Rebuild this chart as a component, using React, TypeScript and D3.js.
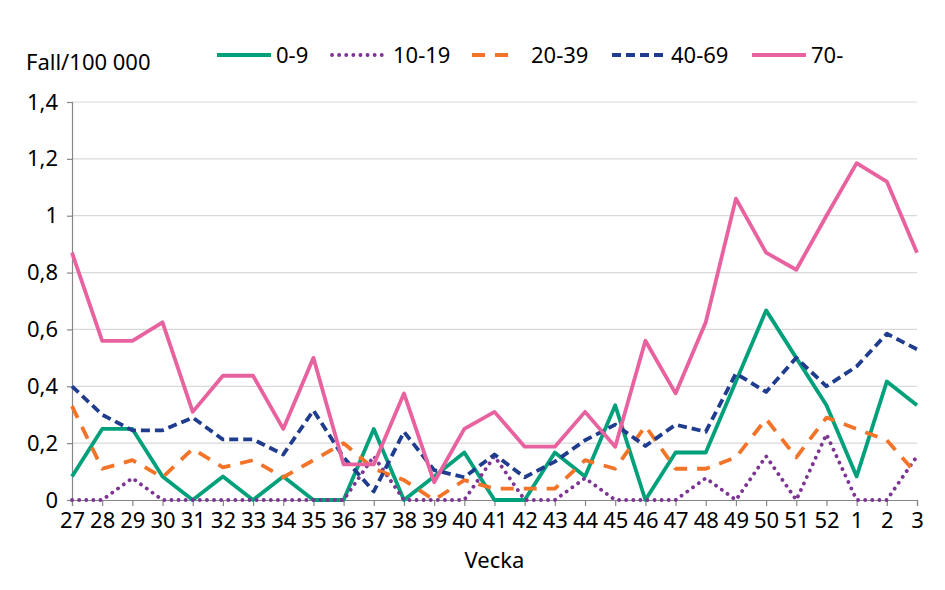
import React from "react";
import { useEffect, useRef } from "react";
import * as d3 from "d3";

const weeks = [
  "27", "28", "29", "30", "31", "32", "33", "34", "35", "36", "37", "38", "39", "40", "41",
  "42", "43", "44", "45", "46", "47", "48", "49", "50", "51", "52", "1", "2", "3",
];

const age0to9 = [
  0.083, 0.25, 0.25, 0.083, 0, 0.083, 0, 0.083, 0, 0, 0.25, 0, 0.083, 0.167, 0,
  0, 0.167, 0.083, 0.333, 0, 0.167, 0.167, 0.417, 0.667, 0.5, 0.333, 0.083, 0.417, 0.333,
];
const age10to19 = [
  0, 0, 0.077, 0, 0, 0, 0, 0, 0, 0, 0.154, 0, 0, 0, 0.154,
  0, 0, 0.077, 0, 0, 0, 0.077, 0, 0.154, 0, 0.231, 0, 0, 0.154,
];
const age20to39 = [
  0.33, 0.11, 0.14, 0.08, 0.18, 0.115, 0.14, 0.08, 0.14, 0.2, 0.11, 0.07, 0, 0.07, 0.04,
  0.04, 0.04, 0.14, 0.11, 0.26, 0.11, 0.11, 0.15, 0.285, 0.15, 0.29, 0.25, 0.21, 0.09,
];
const age40to69 = [
  0.4, 0.3, 0.245, 0.245, 0.29, 0.213, 0.213, 0.16, 0.315, 0.15, 0.03, 0.24, 0.105, 0.08, 0.16,
  0.08, 0.135, 0.21, 0.265, 0.19, 0.265, 0.24, 0.445, 0.38, 0.5, 0.4, 0.47, 0.585, 0.53,
];
const age70plus = [
  0.87, 0.56, 0.56, 0.625, 0.31, 0.437, 0.437, 0.25, 0.5, 0.125, 0.125, 0.375, 0.0625, 0.25, 0.31,
  0.1875, 0.1875, 0.31, 0.1875, 0.56, 0.375, 0.625, 1.06, 0.87, 0.81, 1.0, 1.185, 1.12, 0.87,
];

const yTicks = [0, 0.2, 0.4, 0.6, 0.8, 1, 1.2, 1.4];

const series = [
  { name: "0-9", values: age0to9, color: "#00a07a", dash: null, cap: "butt" },
  { name: "10-19", values: age10to19, color: "#7d3593", dash: "0.1,7", cap: "round" },
  { name: "20-39", values: age20to39, color: "#f37428", dash: "13,10", cap: "butt" },
  { name: "40-69", values: age40to69, color: "#1f3c8f", dash: "9,5", cap: "butt" },
  { name: "70-", values: age70plus, color: "#e8629f", dash: null, cap: "butt" },
];

const font = "'Noto Sans', 'DejaVu Sans', sans-serif";
const fontSize = 22;

const App = () => {
  const ref = useRef<SVGSVGElement>(null);

  useEffect(() => {
    drawChart();
  }, []);

  function drawChart() {
    const width = 945;
    const height = 590;
    const margin = { top: 102, right: 28, bottom: 90, left: 72 };

    const svg = d3.select(ref.current);
    svg.selectAll("*").remove();
    svg.attr("width", width).attr("height", height);

    const innerW = width - margin.left - margin.right;
    const innerH = height - margin.top - margin.bottom;

    const g = svg.append("g").attr("transform", `translate(${margin.left},${margin.top})`);

    const xScale = d3.scalePoint().domain(weeks).range([0, innerW]);
    const yScale = d3.scaleLinear().domain([0, 1.4]).range([innerH, 0]);

    // grid
    g.append("g")
      .selectAll("line")
      .data(yTicks.filter((d) => d > 0))
      .join("line")
      .attr("x1", 0)
      .attr("x2", innerW)
      .attr("y1", (d) => yScale(d))
      .attr("y2", (d) => yScale(d))
      .attr("stroke", "#d9d9d9")
      .attr("stroke-width", 1.2);

    const yAxis = g
      .append("g")
      .call(
        d3
          .axisLeft(yScale)
          .tickValues(yTicks)
          .tickSize(5)
          .tickPadding(9)
          .tickFormat((d: any) => String(+(+d).toFixed(1)).replace(".", ","))
      );
    const xAxis = g
      .append("g")
      .attr("transform", `translate(0,${innerH})`)
      .call(d3.axisBottom(xScale).tickSize(6).tickPadding(6));

    [xAxis, yAxis].forEach((ax) => {
      ax.select(".domain").attr("stroke", "#868686").attr("stroke-width", 1.2);
      ax.selectAll(".tick line").attr("stroke", "#868686").attr("stroke-width", 1.2);
      ax.selectAll("text")
        .attr("font-family", font)
        .attr("font-size", fontSize)
        .attr("fill", "#000");
    });

    const line = d3
      .line<number>()
      .x((d, i) => xScale(weeks[i]) as number)
      .y((d) => yScale(d));

    series.forEach((s) => {
      g.append("path")
        .datum(s.values)
        .attr("fill", "none")
        .attr("stroke", s.color)
        .attr("stroke-width", 3.8)
        .attr("stroke-linejoin", "round")
        .attr("stroke-linecap", s.cap)
        .attr("stroke-dasharray", s.dash)
        .attr("d", line);
    });

    // y title
    svg.append("text")
      .attr("x", 26)
      .attr("y", 70)
      .attr("font-family", font)
      .attr("font-size", fontSize)
      .text("Fall/100 000");

    // x title
    svg.append("text")
      .attr("x", margin.left + innerW / 2)
      .attr("y", 568)
      .attr("text-anchor", "middle")
      .attr("font-family", font)
      .attr("font-size", fontSize)
      .text("Vecka");

    // legend
    const legendX = [217, 332, 472, 612, 752];
    const legend = svg.append("g");
    series.forEach((s, i) => {
      const lg = legend.append("g").attr("transform", `translate(${legendX[i]},55)`);
      lg.append("line")
        .attr("x1", 0)
        .attr("x2", i === 2 ? 41 : 54)
        .attr("y1", 0)
        .attr("y2", 0)
        .attr("stroke", s.color)
        .attr("stroke-width", 3.8)
        .attr("stroke-linecap", s.cap)
        .attr("stroke-dasharray", s.dash);
      lg.append("text")
        .attr("x", i === 2 ? 59 : i === 1 ? 61 : 59)
        .attr("y", 8)
        .attr("font-family", font)
        .attr("font-size", fontSize)
        .text(s.name);
    });
  }

  return (
    <div style={{ position: "absolute", left: 0, top: 0 }}>
      <svg ref={ref} style={{ display: "block" }} />
    </div>
  );
};

export default App;
